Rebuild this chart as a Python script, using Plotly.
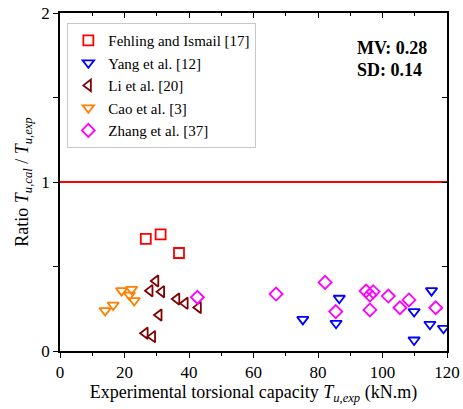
import plotly.graph_objects as go

# Data (x: experimental torsional capacity kN.m, y: ratio)
fehling_x = [26.6, 31.2, 36.9]
fehling_y = [0.663, 0.690, 0.580]

yang_x = [75.3, 86.6, 85.6, 109.8, 109.8, 115.2, 114.7, 118.9]
yang_y = [0.187, 0.312, 0.164, 0.233, 0.065, 0.357, 0.158, 0.134]

li_x = [29.7, 27.9, 31.5, 36.2, 38.8, 42.9, 30.7, 26.4, 28.7]
li_y = [0.414, 0.357, 0.351, 0.308, 0.282, 0.258, 0.213, 0.105, 0.085]

cao_x = [14.0, 16.5, 19.1, 22.2, 21.5, 23.0]
cao_y = [0.239, 0.272, 0.357, 0.365, 0.331, 0.298]

zhang_x = [42.6, 67.0, 82.2, 85.5, 94.9, 96.1, 97.1, 96.1, 101.8, 105.4, 108.2, 116.5]
zhang_y = [0.318, 0.337, 0.406, 0.233, 0.355, 0.331, 0.351, 0.243, 0.325, 0.256, 0.302, 0.256]

series = [
    ("Fehling and Ismail [17]", fehling_x, fehling_y, "square-open", "#ff0000"),
    ("Yang et al. [12]", yang_x, yang_y, "triangle-down-open", "#0000ff"),
    ("Li et al. [20]", li_x, li_y, "triangle-left-open", "#800000"),
    ("Cao et al. [3]", cao_x, cao_y, "triangle-down-open", "#ff8000"),
    ("Zhang et al. [37]", zhang_x, zhang_y, "diamond-open", "#ff00ff"),
]

ref_line_x = [0, 120]
ref_line_y = [1, 1]

FONT = "Liberation Serif, Times New Roman, serif"

fig = go.Figure()
fig.add_trace(go.Scatter(x=ref_line_x, y=ref_line_y, mode="lines",
                         line=dict(color="#ff0000", width=2),
                         showlegend=False, hoverinfo="skip"))
for name, xs, ys, sym, col in series:
    fig.add_trace(go.Scatter(x=xs, y=ys, mode="markers", name=name,
                             marker=dict(symbol=sym, size=10, color=col,
                                         line=dict(color=col, width=1.8))))

axis_common = dict(showgrid=False, zeroline=False, linecolor="black", linewidth=1.5,
                   tickcolor="black", automargin=False,
                   tickfont=dict(family=FONT, size=17, color="black"))

fig.update_layout(
    width=463, height=409,
    margin=dict(l=60, r=16, t=13, b=58),
    paper_bgcolor="white", plot_bgcolor="white",
    font=dict(family=FONT, color="black"),
    xaxis=dict(range=[0, 120], dtick=20, ticks="outside", ticklen=5, tickwidth=1.2,
               minor=dict(dtick=10, ticks="outside", ticklen=3, tickcolor="black"),
               title=dict(text="Experimental torsional capacity <i>T</i><sub><i>u,exp</i></sub> (kN.m)",
                          font=dict(family=FONT, size=18), standoff=2),
               **axis_common),
    yaxis=dict(range=[0, 2], dtick=1, ticks="outside", ticklen=5, tickwidth=1.2,
               minor=dict(dtick=0.5, ticks="outside", ticklen=5, tickcolor="black"),
               title=dict(text="Ratio <i>T</i><sub><i>u,cal</i></sub> / <i>T</i><sub><i>u,exp</i></sub>",
                          font=dict(family=FONT, size=18), standoff=8),
               **axis_common),
    xaxis2=dict(range=[0, 120], dtick=20, overlaying="x", side="top", ticks="inside",
                ticklen=5, showticklabels=False, anchor="y",
                minor=dict(dtick=10, ticks="inside", ticklen=3, tickcolor="black"),
                **axis_common),
    yaxis2=dict(range=[0, 2], dtick=1, overlaying="y", side="right", ticks="inside",
                ticklen=5, showticklabels=False, anchor="x",
                minor=dict(dtick=0.5, ticks="inside", ticklen=5, tickcolor="black"),
                **axis_common),
    legend=dict(x=0.019, y=0.97, xanchor="left", yanchor="top",
                bgcolor="white", bordercolor="#c8c8c8", borderwidth=1,
                font=dict(family=FONT, size=15, color="black"),
                tracegroupgap=0),
    annotations=[
        dict(x=0.762, y=0.896, xref="paper", yref="paper", xanchor="left", yanchor="middle",
             text="<b>MV: 0.28</b>", showarrow=False, font=dict(family=FONT, size=18)),
        dict(x=0.762, y=0.831, xref="paper", yref="paper", xanchor="left", yanchor="middle",
             text="<b>SD: 0.14</b>", showarrow=False, font=dict(family=FONT, size=18)),
    ],
)
# invisible trace to activate the mirrored (inside-tick) axes
fig.add_trace(go.Scatter(x=[0], y=[0], xaxis="x2", yaxis="y2", mode="markers",
                         marker=dict(opacity=0), showlegend=False, hoverinfo="skip"))

fig.write_html("out.html", config={"displayModeBar": False},
               post_script="document.body.style.margin='0';document.body.style.overflow='hidden';")
